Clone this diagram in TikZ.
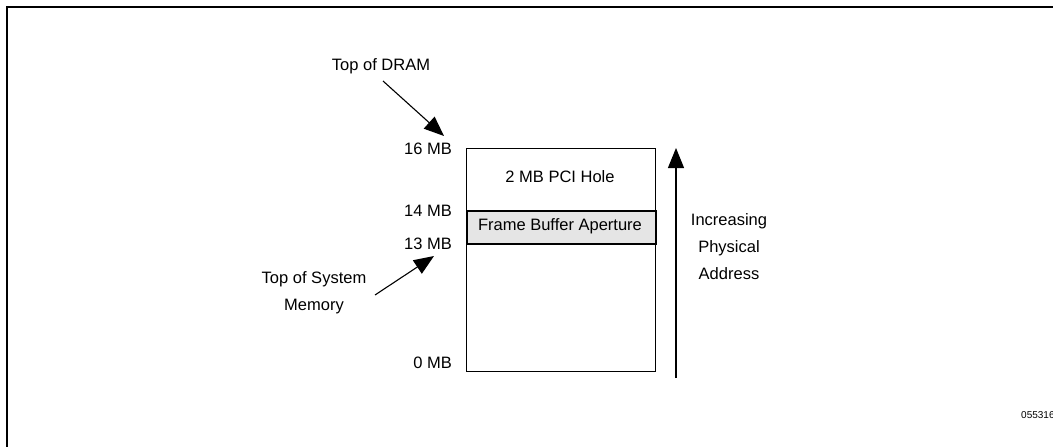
\documentclass[tikz,border=0pt]{standalone}
\usepackage{fontspec}
\setmainfont{Liberation Sans}
\usetikzlibrary{arrows.meta}
\begin{document}
\begin{tikzpicture}[x=1pt,y=-1pt,
  lbl/.style={font=\fontsize{16.5}{18}\selectfont, inner sep=0pt},
  region/.style={draw, line width=1.1pt, anchor=north west, inner sep=0pt},
  bigarrow/.style={line width=1.1pt, -{Triangle[length=20pt,width=16pt]}}
]
\useasboundingbox (0,0) rectangle (1053,447);
% frame
\draw[line width=2.4pt] (7,447) -- (7,7) -- (1053,7);
% memory regions
\node[region, minimum width=189pt, minimum height=62pt] (hole) at (466,148) {};
\node[lbl] (holetxt) at (560,177) {2 MB PCI Hole};
\node[region, minimum width=189pt, minimum height=128pt] (mem) at (466,243) {};
\node[region, fill=black!10, line width=1.5pt, minimum width=189pt, minimum height=33pt] (fba) at (466,210) {};
\node[lbl] (fbatxt) at (560,226) {Frame Buffer Aperture};
% address labels
\node[lbl, anchor=east] (m16) at (452,149) {16 MB};
\node[lbl, anchor=east] (m14) at (452,211) {14 MB};
\node[lbl, anchor=east] (m13) at (452,244) {13 MB};
\node[lbl, anchor=east] (m0) at (452,363) {0 MB};
% pointers
\node[lbl] (dram) at (381,66) {Top of DRAM};
\coordinate (dramtip) at (444,136);
\draw[bigarrow] (383,81) -- (dramtip);
\node[lbl, align=center] (sysmem) at (314,293) {Top of System\\[9pt]Memory};
\coordinate (sysfrom) at (375,295);
\coordinate (systip) at (434,256);
\draw[bigarrow] (sysfrom) -- (systip);
% increasing address arrow
\coordinate (incbot) at (676,378);
\coordinate (inctop) at (676,148);
\draw[bigarrow] (incbot) -- (inctop);
\node[lbl, align=center] (inc) at (729,247) {Increasing\\[9pt]Physical\\[9pt]Address};
% figure number
\node[font=\fontsize{10}{12}\selectfont, anchor=west, inner sep=0pt] (fig) at (1021,415) {055316};
\end{tikzpicture}
\end{document}
